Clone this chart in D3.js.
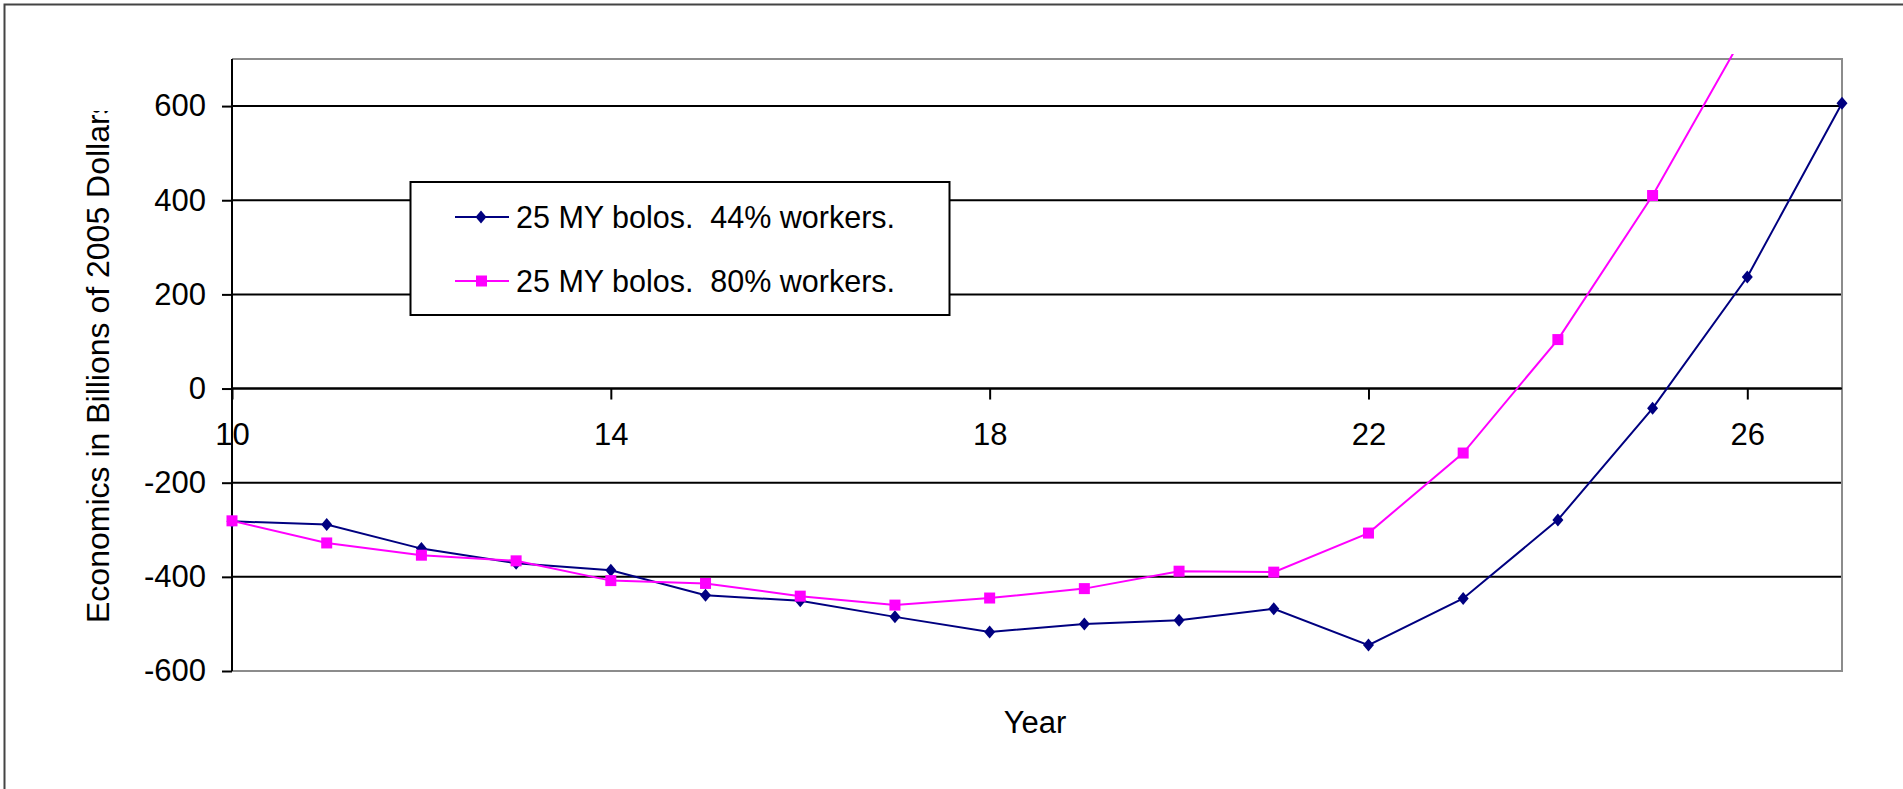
<!DOCTYPE html>
<html>
<head>
<meta charset="utf-8">
<script src="https://cdn.jsdelivr.net/npm/d3@7"></script>
<style>
  html, body { margin: 0; padding: 0; background: #fff; overflow: hidden; }
  text { font-family: "Liberation Sans", Arial, sans-serif; fill: #000; }
</style>
</head>
<body>
<div class="chart"></div>
<script>
// Chart data
var years = [10, 11, 12, 13, 14, 15, 16, 17, 18, 19, 20, 21, 22, 23, 24, 25, 26, 27];
var workers44 = [-282, -289, -340, -371, -386, -439, -451, -485, -517, -500, -492, -468, -545, -446, -279, -42, 237, 606];
var workers80 = [-281, -328, -354, -366, -408, -414, -441, -460, -445, -425, -388, -390, -307, -137, 104, 410, 765];
var seriesNames = ["25 MY bolos.  44% workers.", "25 MY bolos.  80% workers."];
var xTicks = [10, 14, 18, 22, 26];
var yTicks = [-600, -400, -200, 0, 200, 400, 600];

var svgWidth = 1903;
var svgHeight = 789;

// Plot area in page pixels
var plot = { left: 232, top: 59, right: 1842, bottom: 671 };

var svg = d3.select(".chart")
    .append("svg")
    .attr("width", svgWidth)
    .attr("height", svgHeight);

// Outer chart frame (runs off the page on right and bottom)
svg.append("rect")
    .attr("x", 4.5).attr("y", 4.5)
    .attr("width", 1920).attr("height", 820)
    .attr("fill", "none")
    .attr("stroke", "#444")
    .attr("stroke-width", 2);

var xScale = d3.scaleLinear().domain([10, 27]).range([plot.left, plot.right]);
var yScale = d3.scaleLinear().domain([-600, 700]).range([plot.bottom, plot.top]);

// Horizontal gridlines
svg.append("g")
    .selectAll("line")
    .data(yTicks.filter(function(d) { return d > -600; }))
    .enter()
    .append("line")
    .attr("x1", plot.left).attr("x2", plot.right)
    .attr("y1", function(d) { return yScale(d); })
    .attr("y2", function(d) { return yScale(d); })
    .attr("stroke", "#000")
    .attr("stroke-width", 2);

// Plot area border (gray)
svg.append("path")
    .attr("d", "M" + plot.left + "," + plot.top + "H" + plot.right + "V" + plot.bottom + "H" + plot.left)
    .attr("fill", "none")
    .attr("stroke", "#8c8c8c")
    .attr("stroke-width", 2);

// plain hyphen minus, like the original
var plainFormat = function(d) { return String(d); };

// Y axis
var leftAxis = d3.axisLeft(yScale)
    .tickValues(yTicks)
    .tickFormat(plainFormat)
    .tickSize(10)
    .tickPadding(16)
    .tickSizeOuter(0);
var yAxisG = svg.append("g")
    .attr("transform", "translate(" + plot.left + ",0)")
    .call(leftAxis);
yAxisG.select(".domain").attr("stroke", "#000").attr("stroke-width", 2)
    .attr("d", "M0," + plot.top + "V" + plot.bottom);
yAxisG.selectAll(".tick line").attr("stroke", "#000").attr("stroke-width", 2);
yAxisG.selectAll("text")
    .style("font-size", "31px")
    .style("font-family", "'Liberation Sans', Arial, sans-serif")
    .attr("fill", "#000");

// X axis crossing at zero
var bottomAxis = d3.axisBottom(xScale)
    .tickValues(xTicks)
    .tickFormat(plainFormat)
    .tickSize(11)
    .tickSizeOuter(0);
var xAxisG = svg.append("g")
    .attr("transform", "translate(0," + yScale(0) + ")")
    .call(bottomAxis);
xAxisG.select(".domain").attr("stroke", "#000").attr("stroke-width", 2)
    .attr("d", "M" + plot.left + ",0H" + plot.right);
xAxisG.selectAll(".tick line").attr("stroke", "#000").attr("stroke-width", 2);
xAxisG.selectAll("text")
    .attr("y", 56)
    .attr("dy", 0)
    .style("font-size", "31px")
    .style("font-family", "'Liberation Sans', Arial, sans-serif")
    .attr("fill", "#000");

// Clip for series lines (a little slack above plot top, like the original)
svg.append("clipPath").attr("id", "plotClip")
    .append("rect")
    .attr("x", plot.left - 10).attr("y", plot.top - 5)
    .attr("width", plot.right - plot.left + 20)
    .attr("height", plot.bottom - plot.top + 10);

var line = d3.line()
    .x(function(d) { return xScale(d[0]); })
    .y(function(d) { return yScale(d[1]); });

var data44 = workers44.map(function(v, i) { return [years[i], v]; });
var data80 = workers80.map(function(v, i) { return [years[i], v]; });

var series = svg.append("g").attr("clip-path", "url(#plotClip)");

series.append("path")
    .datum(data44)
    .attr("d", line)
    .attr("fill", "none")
    .attr("stroke", "#000080")
    .attr("stroke-width", 2);

series.append("path")
    .datum(data80)
    .attr("d", line)
    .attr("fill", "none")
    .attr("stroke", "#ff00ff")
    .attr("stroke-width", 2);

var diamond = "M0,-6.5L5.5,0L0,6.5L-5.5,0Z";

series.selectAll(".dia")
    .data(data44)
    .enter()
    .append("path")
    .attr("class", "dia")
    .attr("d", diamond)
    .attr("transform", function(d) { return "translate(" + xScale(d[0]) + "," + yScale(d[1]) + ")"; })
    .attr("fill", "#000080");

series.selectAll(".sq")
    .data(data80)
    .enter()
    .append("rect")
    .attr("class", "sq")
    .attr("x", function(d) { return xScale(d[0]) - 5.5; })
    .attr("y", function(d) { return yScale(d[1]) - 5.5; })
    .attr("width", 11)
    .attr("height", 11)
    .attr("fill", "#ff00ff");

// Legend
var legend = svg.append("g");
legend.append("rect")
    .attr("x", 410.5).attr("y", 182)
    .attr("width", 539).attr("height", 133)
    .attr("fill", "#fff")
    .attr("stroke", "#000")
    .attr("stroke-width", 2);

var legendColors = ["#000080", "#ff00ff"];
var legendY = [217, 281];
seriesNames.forEach(function(name, i) {
    legend.append("line")
        .attr("x1", 455).attr("x2", 509)
        .attr("y1", legendY[i]).attr("y2", legendY[i])
        .attr("stroke", legendColors[i])
        .attr("stroke-width", 2);
    if (i === 0) {
        legend.append("path")
            .attr("d", diamond)
            .attr("transform", "translate(481," + legendY[i] + ")")
            .attr("fill", legendColors[i]);
    } else {
        legend.append("rect")
            .attr("x", 476).attr("y", legendY[i] - 5.5)
            .attr("width", 11).attr("height", 11)
            .attr("fill", legendColors[i]);
    }
    legend.append("text")
        .attr("x", 516)
        .attr("y", legendY[i] + 11)
        .attr("textLength", 379)
        .attr("lengthAdjust", "spacingAndGlyphs")
        .style("font-size", "32px")
        .style("white-space", "pre")
        .text(name);
});

// Y axis title, clipped at the top as in the original
svg.append("clipPath").attr("id", "titleClip")
    .append("rect")
    .attr("x", 0).attr("y", 111)
    .attr("width", 200).attr("height", 700);

svg.append("g")
    .attr("clip-path", "url(#titleClip)")
    .append("text")
    .attr("transform", "translate(109,623) rotate(-90)")
    .style("font-size", "32px")
    .text("Economics in Billions of 2005 Dollars");

// X axis title
svg.append("text")
    .attr("x", 1035)
    .attr("y", 733)
    .attr("text-anchor", "middle")
    .style("font-size", "31px")
    .text("Year");
</script>
</body>
</html>
